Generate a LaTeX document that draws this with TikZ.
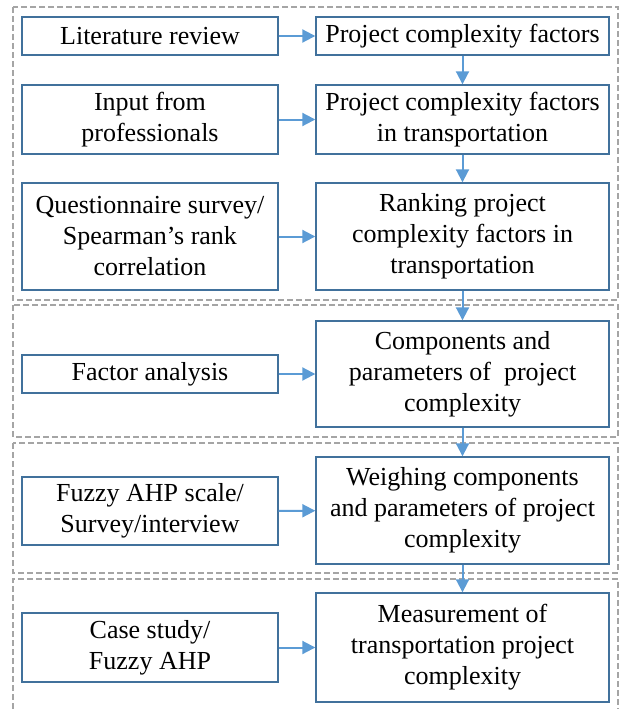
\documentclass[tikz,border=0pt]{standalone}
\usepackage{fontspec}
\setmainfont{Liberation Serif}
\usetikzlibrary{arrows.meta}
\definecolor{boxblue}{HTML}{41719C}
\definecolor{arrowblue}{HTML}{5B9BD5}
\definecolor{dashgrey}{HTML}{A5A5A5}
\tikzset{
  stepbox/.style={draw=boxblue, line width=1.4pt, align=center, inner sep=0pt,
    font=\fontsize{26}{31}\selectfont},
  methodbox/.style={stepbox, minimum width=256pt},
  resultbox/.style={stepbox, minimum width=293pt},
  flow/.style={draw=arrowblue, line width=2pt, -{Triangle[length=13pt,width=13pt]}},
  stage/.style={draw=dashgrey, line width=1.2pt, dash pattern=on 6pt off 3pt}
}
\begin{document}
\begin{tikzpicture}[x=1pt, y=-1pt]
\useasboundingbox (0,0) rectangle (619,709);
%
% dashed frames around the stages
\draw[stage] (13,7) rectangle (618,300);
\draw[stage] (13,305) rectangle (618,437);
\draw[stage] (13,443) rectangle (618,573);
\draw[stage] (13,709) |- (618,579) -- (618,709);
%
\draw (150,36) node[methodbox, minimum height=38pt](litreview){Literature review};
\draw (462.5,36) node[resultbox, minimum height=38pt](factors){Project complexity factors};
\draw[flow] (litreview) -- (factors);
%
\draw (150,119.5) node[methodbox, minimum height=69pt](experts){Input from\\professionals};
\draw (462.5,119.5) node[resultbox, minimum height=69pt](transport){Project complexity factors\\in transportation};
\draw[flow] (experts) -- (transport);
\draw[flow] (factors) -- (transport);
%
\draw (150,236.5) node[methodbox, minimum height=107pt](survey){Questionnaire survey/\\Spearman’s rank\\correlation};
\draw (462.5,236.5) node[resultbox, minimum height=107pt](ranking){Ranking project\\complexity factors in\\transportation};
\draw[flow] (survey) -- (ranking);
\draw[flow] (transport) -- (ranking);
%
\draw (150,374) node[methodbox, minimum height=38pt](factoran){Factor analysis};
\draw (462.5,374) node[resultbox, minimum height=106pt](components){Components and\\parameters of~ project\\complexity};
\draw[flow] (factoran) -- (components);
\draw[flow] (ranking) -- (components);
%
\draw (150,511) node[methodbox, minimum height=68pt](fuzzyahp){Fuzzy AHP scale/\\Survey/interview};
\draw (462.5,510.5) node[resultbox, minimum height=107pt](weighing){Weighing components\\and parameters of project\\complexity};
\draw[flow] (fuzzyahp) -- (weighing);
\draw[flow] (components) -- (weighing);
%
\draw (150,647.5) node[methodbox, minimum height=69pt](casestudy){Case study/\\Fuzzy AHP};
\draw (462.5,647.5) node[resultbox, minimum height=109pt](measure){Measurement of\\transportation project\\complexity};
\draw[flow] (casestudy) -- (measure);
\draw[flow] (weighing) -- (measure);
\end{tikzpicture}
\end{document}
